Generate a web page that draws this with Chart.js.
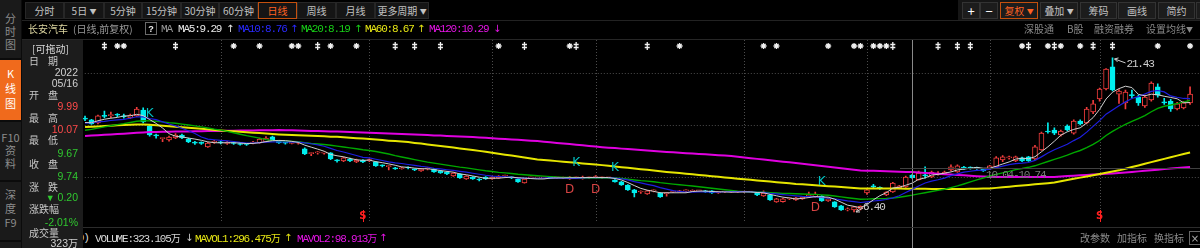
<!DOCTYPE html>
<html>
<head>
<meta charset="utf-8">
<script src="https://cdn.jsdelivr.net/npm/chart.js@4.4.0/dist/chart.umd.min.js"></script>
<style>
body{margin:0;background:#000;width:1200px;height:248px;overflow:hidden;position:relative;font-family:"Noto Sans CJK SC",sans-serif;}
.t{position:absolute;height:12px;line-height:12px;font-size:10px;white-space:nowrap;z-index:3}
.mono{font-family:"Liberation Mono",monospace;font-size:11px;letter-spacing:-1.2px}
.num{font-family:"Liberation Sans",sans-serif;font-size:10.5px}
.btn{position:absolute;top:2px;height:17px;line-height:16px;box-sizing:border-box;background:#151515;border:1px solid #272727;color:#c2c2c2;font-size:10px;text-align:center;white-space:nowrap}
.btn.on{border-color:#c4500e;color:#ff6222}
.rb{background:#1c1c1c;border-color:#333}
.tab{position:absolute;left:0;width:21px;background:#1a1a1a;color:#8c8c8c;font-size:11px;text-align:center;box-sizing:border-box}
.tri{font-size:7px;vertical-align:1px}
#k{position:absolute;left:0;top:40px;z-index:1}
</style>
</head>
<body>
<!-- left tabs -->
<div style="position:absolute;left:0;top:0;width:22px;height:248px;background:#0b0b0b;z-index:4">
  <div class="tab" style="top:0;height:58px;line-height:13px;padding-top:11.5px">分<br>时<br>图</div>
  <div class="tab" style="top:60px;height:60px;line-height:15px;padding-top:5.5px;background:#f06a1c;color:#fff">K<br>线<br>图</div>
  <div class="tab" style="top:122px;height:58px;line-height:13px;padding-top:8.5px">F10<br>资<br>料</div>
  <div class="tab" style="top:182px;height:58px;line-height:14px;padding-top:5px">深<br>度<br>F9</div>
  <div class="tab" style="top:242px;height:10px"></div>
</div>

<!-- toolbar -->
<div class="btn" style="left:25px;width:39px">分时</div>
<div class="btn" style="left:64px;width:40px">5日 <span class="tri">▼</span></div>
<div class="btn" style="left:104px;width:38px">5分钟</div>
<div class="btn" style="left:142px;width:39px">15分钟</div>
<div class="btn" style="left:181px;width:38px">30分钟</div>
<div class="btn" style="left:219px;width:39px">60分钟</div>
<div class="btn on" style="left:258px;width:39px">日线</div>
<div class="btn" style="left:297px;width:39px">周线</div>
<div class="btn" style="left:336px;width:39px">月线</div>
<div class="btn" style="left:375px;width:54px">更多周期 <span class="tri">▼</span></div>

<div style="position:absolute;left:958px;top:0;width:242px;height:21px;background:#161616"></div>
<div class="btn rb" style="left:962px;width:18px;color:#fff;font-size:13px">+</div>
<div class="btn rb" style="left:980px;width:18px;color:#fff;font-size:13px">−</div>
<div class="btn rb on" style="left:1000px;width:38px">复权 <span class="tri">▼</span></div>
<div class="btn rb" style="left:1040px;width:38px">叠加 <span class="tri">▼</span></div>
<div class="btn rb" style="left:1080px;width:37px">筹码</div>
<div class="btn rb" style="left:1118px;width:38px">画线</div>
<div class="btn rb" style="left:1158px;width:37px">简约</div>
<div class="btn rb" style="left:1196px;width:10px"></div>

<div style="position:absolute;left:22px;top:20px;width:1178px;height:1px;background:#222"></div>
<div style="position:absolute;left:22px;top:39px;width:1178px;height:1px;background:#262626"></div>

<!-- title row -->
<div class="t" style="left:28px;top:23px;color:#ddd6a0">长安汽车</div>
<div class="t" style="left:73px;top:23px;color:#9a9a9a">(日线,前复权)</div>
<div class="t" style="left:145px;top:22px;width:12px;height:13px;line-height:12px;border:1px solid #6a6a6a;box-sizing:border-box;text-align:center;color:#eee;font-family:'Liberation Sans';font-weight:bold;font-size:9px">?</div>
<div class="t mono" style="left:161px;top:23px;color:#9a9a9a">MA</div>
<div class="t mono" style="left:178px;top:23px;color:#e8e8e8">MA5:9.29</div>
<div class="t" style="left:226px;top:23px;color:#e8e8e8;font-family:'DejaVu Sans'">↑</div>
<div class="t mono" style="left:238px;top:23px;color:#2a2aff">MA10:8.76</div>
<div class="t" style="left:290px;top:23px;color:#2a2aff;font-family:'DejaVu Sans'">↑</div>
<div class="t mono" style="left:301px;top:23px;color:#18d018">MA20:8.19</div>
<div class="t" style="left:354px;top:23px;color:#18d018;font-family:'DejaVu Sans'">↑</div>
<div class="t mono" style="left:365px;top:23px;color:#e6e614">MA60:8.67</div>
<div class="t" style="left:417px;top:23px;color:#e6e614;font-family:'DejaVu Sans'">↑</div>
<div class="t mono" style="left:429px;top:23px;color:#e614e6">MA120:10.29</div>
<div class="t" style="left:493px;top:23px;color:#e614e6;font-family:'DejaVu Sans'">↓</div>

<div class="t" style="left:1024px;top:23px;color:#8a8a8a">深股通</div>
<div class="t" style="left:1067px;top:23px;color:#8a8a8a">B股</div>
<div class="t" style="left:1094px;top:23px;color:#8a8a8a">融资融券</div>
<div class="t" style="left:1146px;top:23px;color:#8a8a8a">设置均线<span class="tri">▼</span></div>

<!-- info panel -->
<div style="position:absolute;left:22px;top:40px;width:61px;height:208px;background:#1c1c1c;z-index:2"></div>
<div class="t" style="left:32px;top:43px;color:#d8d8d8">[可拖动]</div>
<div class="t" style="left:29px;top:55px;color:#c8c8c8;letter-spacing:9px">日期</div>
<div class="t num" style="left:22px;width:56px;text-align:right;top:66px;color:#d0d0d0">2022</div>
<div class="t num" style="left:22px;width:56px;text-align:right;top:77px;color:#d0d0d0">05/16</div>
<div class="t" style="left:29px;top:89px;color:#c8c8c8;letter-spacing:9px">开盘</div>
<div class="t num" style="left:22px;width:56px;text-align:right;top:100px;color:#ff4a4a">9.99</div>
<div class="t" style="left:29px;top:112px;color:#c8c8c8;letter-spacing:9px">最高</div>
<div class="t num" style="left:22px;width:56px;text-align:right;top:123px;color:#ff4a4a">10.07</div>
<div class="t" style="left:29px;top:134px;color:#c8c8c8;letter-spacing:9px">最低</div>
<div class="t num" style="left:22px;width:56px;text-align:right;top:147px;color:#30c830">9.67</div>
<div class="t" style="left:29px;top:158px;color:#c8c8c8;letter-spacing:9px">收盘</div>
<div class="t num" style="left:22px;width:56px;text-align:right;top:170px;color:#30c830">9.74</div>
<div class="t" style="left:29px;top:181px;color:#c8c8c8;letter-spacing:9px">涨跌</div>
<div class="t num" style="left:22px;width:56px;text-align:right;top:191px;color:#30c830"><span style="font-size:9px">▼</span> 0.20</div>
<div class="t" style="left:29px;top:203px;color:#c8c8c8">涨跌幅</div>
<div class="t num" style="left:22px;width:56px;text-align:right;top:216px;color:#30c830">-2.01%</div>
<div class="t" style="left:29px;top:227px;color:#c8c8c8">成交量</div>
<div class="t" style="left:22px;width:56px;text-align:right;top:237px;color:#d0d0d0"><span class="num">323</span>万</div>

<!-- volume header -->
<div style="position:absolute;left:83px;top:227px;width:1117px;height:1px;background:#2c2c2c;z-index:2"></div>
<div class="t mono" style="left:40px;top:232px;color:#d8d8d8;z-index:1">VOL(5,60)</div>
<div class="t mono" style="left:95px;top:232px;color:#d8d8d8">VOLUME:323.105<span style="font-family:'Noto Sans CJK SC';font-size:10px;letter-spacing:0">万</span></div>
<div class="t" style="left:185px;top:232px;color:#d0d0d0;font-family:'DejaVu Sans'">↓</div>
<div class="t mono" style="left:195px;top:232px;color:#e6e614">MAVOL1:296.475<span style="font-family:'Noto Sans CJK SC';font-size:10px;letter-spacing:0">万</span></div>
<div class="t" style="left:284px;top:232px;color:#e6e614;font-family:'DejaVu Sans'">↑</div>
<div class="t mono" style="left:297px;top:232px;color:#e614e6">MAVOL2:98.913<span style="font-family:'Noto Sans CJK SC';font-size:10px;letter-spacing:0">万</span></div>
<div class="t" style="left:379px;top:232px;color:#e614e6;font-family:'DejaVu Sans'">↑</div>
<div class="t" style="left:1080px;top:232px;color:#8c8c8c">改参数</div>
<div class="t" style="left:1117px;top:232px;color:#8c8c8c">加指标</div>
<div class="t" style="left:1154px;top:232px;color:#8c8c8c">换指标</div>
<div class="t" style="left:1189px;top:231px;width:12px;height:14px;line-height:13px;border:1px solid #666;box-sizing:border-box;text-align:center;color:#aaa;font-family:'DejaVu Sans'">×</div>

<div class="t mono" style="left:986px;top:169px;color:#7a7a7a;z-index:2">10.04-10.74</div>

<canvas id="k" width="1200" height="208"></canvas>

<script>
// daily candles, 2021-11 .. 2022-07 (index 128 = 2022/05/16)
const opens = [
  15.55, 15.38, 15.08, 15.75, 15.80, 15.86, 15.75, 15.58, 15.77, 16.35,
  14.79, 13.85, 13.55, 13.42, 13.62, 13.91, 13.52, 13.15, 13.12, 12.75,
  13.20, 13.18, 13.10, 13.15, 13.05, 13.00, 13.12, 13.13, 13.23, 13.72,
  13.33, 13.13, 13.10, 13.12, 12.55, 12.10, 12.16, 12.14, 12.16, 11.40,
  11.38, 11.57, 11.28, 11.47, 11.40, 11.28, 10.90, 10.82, 10.69, 10.62,
  10.70, 10.52, 10.40, 10.60, 10.60, 10.40, 10.30, 9.91, 10.11, 9.62,
  9.81, 9.55, 9.81, 9.62, 9.72, 9.91, 9.74, 9.62, 9.23, 9.72,
  9.72, 9.72, 9.73, 9.72, 9.71, 9.62, 9.72, 9.65, 9.72, 9.75,
  9.72, 9.72, 9.52, 9.33, 9.03, 8.55, 8.35, 8.15, 8.45, 8.25,
  8.18, 8.35, 8.35, 8.45, 8.42, 8.45, 8.45, 8.45, 8.25, 8.35,
  8.32, 8.35, 8.35, 8.35, 8.25, 7.96, 8.06, 7.38, 7.40, 7.67,
  7.57, 7.67, 7.86, 7.86, 7.96, 7.47, 7.38, 6.99, 6.60, 6.60,
  6.70, 8.25, 8.90, 8.72, 8.06, 8.35, 8.74, 8.84, 9.99, 9.55,
  9.95, 9.81, 10.10, 10.10, 10.50, 10.30, 10.70, 10.70, 10.66, 10.60,
  10.60, 10.80, 11.47, 11.67, 11.37, 11.67, 11.77, 11.57, 12.45, 14.25,
  14.40, 13.91, 14.79, 14.10, 15.28, 15.08, 16.15, 17.43, 18.40, 20.55,
  17.90, 17.03, 17.80, 17.60, 16.74, 17.33, 18.60, 17.10, 17.23, 16.45,
  16.55, 17.03
];
const highs = [
  15.75, 15.45, 15.85, 16.25, 16.15, 16.00, 15.95, 15.95, 16.60, 16.55,
  14.90, 14.00, 13.62, 13.80, 14.05, 14.00, 13.60, 13.30, 13.25, 13.20,
  13.40, 13.30, 13.30, 13.25, 13.15, 13.10, 13.30, 13.60, 13.75, 13.80,
  13.40, 13.25, 13.22, 13.25, 12.65, 12.18, 12.30, 12.25, 12.20, 11.50,
  11.75, 11.65, 11.55, 11.52, 11.58, 11.32, 11.00, 10.92, 10.75, 10.78,
  10.80, 10.60, 10.65, 10.70, 10.65, 10.45, 10.35, 10.25, 10.15, 9.95,
  9.86, 9.65, 9.86, 9.86, 9.95, 10.00, 9.82, 9.66, 9.66, 9.80,
  9.78, 9.80, 9.82, 9.78, 9.80, 9.86, 9.80, 9.90, 9.80, 9.95,
  9.80, 9.78, 9.56, 9.38, 9.08, 8.60, 8.45, 8.50, 8.55, 8.30,
  8.28, 8.45, 8.50, 8.55, 8.55, 8.52, 8.50, 8.48, 8.40, 8.42,
  8.45, 8.42, 8.42, 8.42, 8.30, 8.45, 8.10, 7.72, 7.72, 7.75,
  7.82, 7.92, 8.35, 8.35, 8.00, 7.72, 7.42, 7.05, 6.80, 6.95,
  7.00, 8.60, 9.10, 8.85, 8.40, 9.30, 9.00, 9.90, 10.07, 10.40,
  10.80, 10.40, 10.35, 10.40, 11.00, 11.00, 10.85, 10.80, 10.78, 10.65,
  10.95, 11.80, 11.90, 11.85, 11.85, 11.75, 11.82, 12.90, 14.20, 15.10,
  14.60, 14.40, 14.90, 15.40, 15.40, 16.60, 17.30, 18.50, 20.40, 21.43,
  18.35, 18.30, 18.30, 17.80, 17.80, 19.10, 18.90, 17.50, 17.40, 17.10,
  17.20, 18.60
];
const lows = [
  15.30, 14.95, 15.00, 15.57, 15.60, 15.70, 15.55, 15.50, 15.70, 15.10,
  13.80, 13.60, 13.25, 13.30, 13.55, 13.55, 13.15, 13.00, 12.98, 12.70,
  13.10, 13.05, 13.00, 13.00, 12.92, 12.90, 13.05, 13.10, 13.20, 13.38,
  13.10, 13.02, 13.05, 13.02, 12.00, 11.90, 12.05, 12.05, 11.50, 11.25,
  11.30, 11.30, 11.20, 11.22, 11.30, 10.85, 10.80, 10.50, 10.55, 10.58,
  10.60, 10.42, 10.35, 10.50, 10.25, 10.15, 10.05, 9.88, 9.68, 9.58,
  9.58, 9.42, 9.58, 9.58, 9.68, 9.82, 9.65, 9.28, 9.20, 9.65,
  9.66, 9.66, 9.66, 9.65, 9.66, 9.58, 9.66, 9.60, 9.66, 9.70,
  9.66, 9.66, 9.30, 8.98, 8.50, 7.86, 8.20, 8.10, 8.35, 7.82,
  7.95, 8.28, 8.30, 8.38, 8.38, 8.38, 8.30, 8.20, 8.20, 8.28,
  8.28, 8.28, 8.28, 8.30, 8.00, 7.92, 7.52, 7.33, 7.35, 7.60,
  7.52, 7.62, 7.80, 7.80, 7.42, 7.42, 6.85, 6.55, 6.50, 6.40,
  6.60, 8.10, 8.70, 8.60, 8.00, 8.30, 8.65, 8.80, 9.67, 9.50,
  9.70, 9.75, 10.00, 10.05, 10.40, 10.25, 10.55, 10.58, 10.55, 10.35,
  10.55, 10.75, 11.30, 11.55, 11.30, 11.30, 11.32, 11.50, 12.40, 14.10,
  13.95, 13.80, 14.30, 14.00, 14.90, 15.00, 16.00, 17.20, 18.30, 18.20,
  17.00, 16.45, 17.50, 16.80, 16.60, 17.20, 17.60, 16.90, 16.20, 16.35,
  16.45, 16.90
];
const closes = [
  15.45, 14.99, 15.77, 15.72, 15.82, 15.84, 15.68, 15.86, 16.45, 15.18,
  13.91, 13.82, 13.60, 13.70, 13.90, 13.62, 13.23, 13.12, 13.10, 13.13,
  13.22, 13.15, 13.18, 13.08, 12.98, 12.98, 13.22, 13.52, 13.62, 13.42,
  13.13, 13.12, 13.16, 13.12, 12.06, 12.16, 12.16, 12.14, 11.57, 11.38,
  11.67, 11.38, 11.47, 11.28, 11.50, 10.90, 10.89, 10.89, 10.60, 10.70,
  10.69, 10.50, 10.60, 10.60, 10.30, 10.20, 10.11, 10.20, 9.72, 9.91,
  9.62, 9.52, 9.62, 9.81, 9.91, 9.91, 9.72, 9.33, 9.62, 9.72,
  9.72, 9.72, 9.72, 9.72, 9.72, 9.81, 9.72, 9.81, 9.72, 9.82,
  9.72, 9.72, 9.33, 9.03, 8.55, 8.25, 8.35, 8.45, 8.45, 7.86,
  8.25, 8.35, 8.45, 8.45, 8.48, 8.45, 8.35, 8.25, 8.35, 8.35,
  8.38, 8.35, 8.35, 8.35, 8.06, 8.25, 7.57, 7.67, 7.67, 7.67,
  7.77, 7.86, 8.06, 8.15, 7.47, 7.67, 6.89, 6.60, 6.69, 6.89,
  6.95, 8.55, 8.85, 8.70, 8.35, 9.23, 8.94, 9.81, 9.74, 10.20,
  9.93, 10.30, 10.20, 10.30, 10.80, 10.90, 10.69, 10.69, 10.65, 10.40,
  10.90, 11.67, 11.77, 11.67, 11.77, 11.37, 11.37, 12.75, 14.10, 14.20,
  14.10, 14.30, 14.40, 15.28, 14.98, 16.45, 16.94, 18.40, 20.35, 18.30,
  18.20, 18.10, 17.75, 17.03, 17.60, 18.98, 17.80, 17.05, 16.45, 16.94,
  17.04, 17.90
];
// closes before the visible window (only feed MA5/10/20)
const preCloses = [13.20, 13.40, 13.30, 13.60, 13.50, 13.80, 13.70, 14.00, 14.20, 14.10,
  14.50, 14.90, 15.20, 15.00, 15.30, 15.10, 14.80, 15.00, 15.30];

const ma60 = [
  14.69, 14.72, 14.75, 14.78, 14.81, 14.85, 14.88, 14.91, 14.94, 14.93,
  14.90, 14.86, 14.82, 14.77, 14.72, 14.67, 14.62, 14.57, 14.51, 14.46,
  14.40, 14.36, 14.31, 14.27, 14.23, 14.19, 14.14, 14.10, 14.06, 14.01,
  13.97, 13.94, 13.92, 13.89, 13.86, 13.84, 13.81, 13.78, 13.75, 13.73,
  13.70, 13.65, 13.60, 13.56, 13.51, 13.46, 13.41, 13.36, 13.32, 13.27,
  13.22, 13.14, 13.07, 12.99, 12.91, 12.84, 12.76, 12.68, 12.60, 12.53,
  12.45, 12.36, 12.27, 12.17, 12.08, 11.99, 11.90, 11.81, 11.71, 11.62,
  11.53, 11.47, 11.42, 11.36, 11.31, 11.25, 11.19, 11.14, 11.08, 11.03,
  10.97, 10.90, 10.84, 10.77, 10.71, 10.64, 10.57, 10.51, 10.44, 10.38,
  10.31, 10.25, 10.19, 10.13, 10.07, 10.01, 9.95, 9.89, 9.83, 9.77,
  9.71, 9.65, 9.60, 9.54, 9.48, 9.43, 9.37, 9.31, 9.25, 9.20,
  9.14, 9.10, 9.05, 9.01, 8.96, 8.92, 8.88, 8.83, 8.79, 8.74,
  8.70, 8.70, 8.69, 8.69, 8.68, 8.68, 8.68, 8.67, 8.67, 8.66,
  8.66, 8.65, 8.65, 8.65, 8.65, 8.65, 8.65, 8.66, 8.67, 8.68,
  8.70, 8.75, 8.81, 8.87, 8.93, 8.98, 9.04, 9.10, 9.15, 9.21,
  9.27, 9.39, 9.51, 9.63, 9.75, 9.87, 9.98, 10.10, 10.22, 10.34,
  10.46, 10.62, 10.78, 10.94, 11.10, 11.26, 11.42, 11.58, 11.74, 11.90,
  12.06, 12.20
];
const ma120 = [
  13.81, 13.85, 13.89, 13.93, 13.97, 14.01, 14.04, 14.08, 14.12, 14.16,
  14.20, 14.21, 14.22, 14.23, 14.24, 14.25, 14.26, 14.27, 14.28, 14.29,
  14.30, 14.31, 14.32, 14.33, 14.34, 14.35, 14.36, 14.37, 14.38, 14.38,
  14.39, 14.38, 14.37, 14.35, 14.33, 14.31, 14.29, 14.28, 14.26, 14.24,
  14.22, 14.20, 14.17, 14.15, 14.12, 14.10, 14.08, 14.05, 14.03, 14.00,
  13.98, 13.95, 13.93, 13.90, 13.87, 13.85, 13.82, 13.79, 13.76, 13.74,
  13.71, 13.67, 13.63, 13.59, 13.55, 13.51, 13.48, 13.44, 13.40, 13.36,
  13.32, 13.26, 13.20, 13.14, 13.08, 13.02, 12.96, 12.90, 12.84, 12.78,
  12.72, 12.67, 12.63, 12.58, 12.54, 12.49, 12.44, 12.40, 12.35, 12.31,
  12.26, 12.22, 12.18, 12.14, 12.10, 12.06, 12.02, 11.98, 11.94, 11.90,
  11.86, 11.79, 11.72, 11.65, 11.58, 11.52, 11.45, 11.38, 11.31, 11.24,
  11.17, 11.10, 11.03, 10.95, 10.88, 10.81, 10.74, 10.67, 10.59, 10.52,
  10.45, 10.43, 10.41, 10.39, 10.37, 10.35, 10.33, 10.31, 10.29, 10.25,
  10.21, 10.17, 10.13, 10.09, 10.05, 10.01, 9.97, 9.93, 9.89, 9.86,
  9.83, 9.82, 9.81, 9.80, 9.80, 9.80, 9.80, 9.80, 9.81, 9.81,
  9.82, 9.86, 9.90, 9.93, 9.97, 10.01, 10.05, 10.09, 10.12, 10.16,
  10.20, 10.25, 10.31, 10.36, 10.42, 10.47, 10.52, 10.58, 10.63, 10.69,
  10.74, 10.79
];

const crossIdx = 128;                        // 2022/05/16
const monthStarts = [21, 44, 63, 79, 102, 121, 140, 157];
const priceGrid = [9.81, 14.89, 19.96];
const sigK = [[10, 16.0], [76, 11.18], [82, 10.69], [114, 9.33]];
const sigD = [[75, 8.55], [79, 8.55], [113, 6.79]];
const sellS = [43, 157];
const markIdx = [3, 5, 6, 14, 23, 27, 32, 33, 36, 38, 42, 48, 51, 55, 64, 68, 75, 76, 87, 92,
  105, 107, 115, 119, 120, 122, 123, 124, 125, 132, 135, 137, 145, 146, 149, 150, 151, 154, 156, 159, 166, 171];
const markType = '‡**‡****‡**‡‡‡*‡*‡‡*********‡‡‡‡*‡*‡**‡‡***‡*';

const days = closes.map((_, i) => i);
const allCloses = preCloses.concat(closes);
const movingAvg = n => closes.map((_, i) => {
  const end = i + preCloses.length + 1;
  const win = allCloses.slice(end - n, end);
  return +(win.reduce((s, v) => s + v, 0) / n).toFixed(3);
});

const RED = '#f03c3c', CYAN = '#00eeee';
const up = closes.map((c, i) => c >= opens[i]);
const edge = up.map(u => u ? RED : CYAN);
const fill = up.map(u => u ? '#000' : CYAN);
const bodies = closes.map((c, i) => [Math.min(c, opens[i]), Math.max(c, opens[i])]);
const wicks = lows.map((l, i) => [l, highs[i]]);

const decor = {
	id: 'decor',
	beforeDatasetsDraw(chart) {
		const { ctx, chartArea: a, scales: { x, y } } = chart;
		ctx.save();
		ctx.strokeStyle = '#4c4c4c';
		ctx.lineWidth = 1;
		ctx.setLineDash([1, 2]);
		ctx.beginPath();
		priceGrid.forEach(p => {
			const py = Math.round(y.getPixelForValue(p)) + 0.5;
			ctx.moveTo(a.left, py); ctx.lineTo(a.right + 7, py);
		});
		monthStarts.forEach(i => {
			const px = Math.round(x.getPixelForValue(i)) + 0.5;
			ctx.moveTo(px, a.top); ctx.lineTo(px, a.bottom);
		});
		ctx.stroke();
		ctx.restore();
	},
	afterDatasetsDraw(chart) {
		const { ctx, scales: { x, y } } = chart;
		ctx.save();
		// crosshair
		const cx = Math.round(x.getPixelForValue(crossIdx)) + 0.5;
		ctx.strokeStyle = '#8a8a8a';
		ctx.lineWidth = 1;
		ctx.beginPath(); ctx.moveTo(cx, 0); ctx.lineTo(cx, chart.height); ctx.stroke();
		ctx.fillStyle = '#404040';
		ctx.fillRect(900, 128, 300, 1);

		// K / D signals
		ctx.font = '12px "DejaVu Sans"';
		ctx.textAlign = 'center';
		ctx.textBaseline = 'middle';
		ctx.fillStyle = '#00c4c4';
		sigK.forEach(([i, p]) => ctx.fillText('K', x.getPixelForValue(i), y.getPixelForValue(p)));
		ctx.fillStyle = '#d84444';
		sigD.forEach(([i, p]) => ctx.fillText('D', x.getPixelForValue(i), y.getPixelForValue(p)));

		// S marks
		ctx.font = 'bold 10px "DejaVu Sans"';
		ctx.fillStyle = '#ff2020';
		sellS.forEach(i => {
			const px = x.getPixelForValue(i);
			ctx.fillText('S', px, 176);
			ctx.fillRect(Math.round(px), 170, 1, 12);
		});

		// highest / lowest labels
		const hi = Math.max(...highs), lo = Math.min(...lows);
		const hx = x.getPixelForValue(highs.indexOf(hi)), hy = y.getPixelForValue(hi);
		const lx = x.getPixelForValue(lows.indexOf(lo)), ly = y.getPixelForValue(lo);
		ctx.strokeStyle = '#d0d0d0';
		ctx.fillStyle = '#d0d0d0';
		ctx.beginPath();
		ctx.moveTo(hx + 2, hy + 1); ctx.lineTo(hx + 13, hy + 5);
		ctx.moveTo(hx + 2, hy + 1); ctx.lineTo(hx + 6, hy);
		ctx.moveTo(hx + 2, hy + 1); ctx.lineTo(hx + 5, hy + 4);
		ctx.moveTo(lx + 2, ly); ctx.lineTo(lx + 9, ly - 4);
		ctx.moveTo(lx + 2, ly); ctx.lineTo(lx + 6, ly);
		ctx.moveTo(lx + 2, ly); ctx.lineTo(lx + 4, ly - 3);
		ctx.stroke();
		ctx.font = '11px "Liberation Mono"';
		ctx.letterSpacing = '-1.2px';
		ctx.textAlign = 'left';
		ctx.fillText(hi.toFixed(2), hx + 14, hy + 6);
		ctx.fillText(lo.toFixed(2), lx + 9, ly - 5);
		ctx.letterSpacing = '0px';

		// information marks on top row
		ctx.strokeStyle = '#f0f0f0';
		ctx.lineWidth = 1.3;
		markIdx.forEach((i, k) => {
			const px = x.getPixelForValue(i), py = 6;
			ctx.beginPath();
			if (markType[k] === '*') {
				for (let j = 0; j < 4; j++) {
					const ang = j * Math.PI / 4;
					ctx.moveTo(px - 3 * Math.cos(ang), py - 3 * Math.sin(ang));
					ctx.lineTo(px + 3 * Math.cos(ang), py + 3 * Math.sin(ang));
				}
			} else {
				ctx.moveTo(px, py - 4); ctx.lineTo(px, py + 4);
				ctx.moveTo(px - 2.5, py - 1.5); ctx.lineTo(px + 2.5, py - 1.5);
				ctx.moveTo(px - 2.5, py + 1.5); ctx.lineTo(px + 2.5, py + 1.5);
			}
			ctx.stroke();
		});
		ctx.restore();
	}
};

const maLine = (label, data, color, width) => ({
	type: 'line', label, data, borderColor: color, borderWidth: width,
	pointRadius: 0, fill: false, order: 0,
});

(() => {
	new Chart(document.getElementById('k'), {
		type: 'bar',
		data: {
			labels: days,
			datasets: [
				maLine('MA5', movingAvg(5), '#cfcfcf', 1),
				maLine('MA10', movingAvg(10), '#1e1ee0', 1.2),
				maLine('MA20', movingAvg(20), '#00a800', 1.4),
				maLine('MA60', ma60, '#e6e600', 2),
				maLine('MA120', ma120, '#e000e0', 2),
				{
					label: 'body', data: bodies, backgroundColor: fill, borderColor: edge,
					borderWidth: 1, borderSkipped: false, barThickness: 5, minBarLength: 1,
					grouped: false, order: 1,
				},
				{
					label: 'wick', data: wicks, backgroundColor: edge,
					barThickness: 1, grouped: false, order: 2,
				},
			],
		},
		options: {
			responsive: false,
			animation: false,
			devicePixelRatio: 1,
			events: [],
			layout: { padding: { left: 81.8, right: 6.7, top: 0, bottom: 26 } },
			plugins: {
				legend: { display: false },
				tooltip: { enabled: false },
			},
			scales: {
				x: { display: false, offset: true },
				y: { display: false, min: 5.42, max: 23.18 },
			},
		},
		plugins: [decor],
	});
})();
</script>
</body>
</html>
